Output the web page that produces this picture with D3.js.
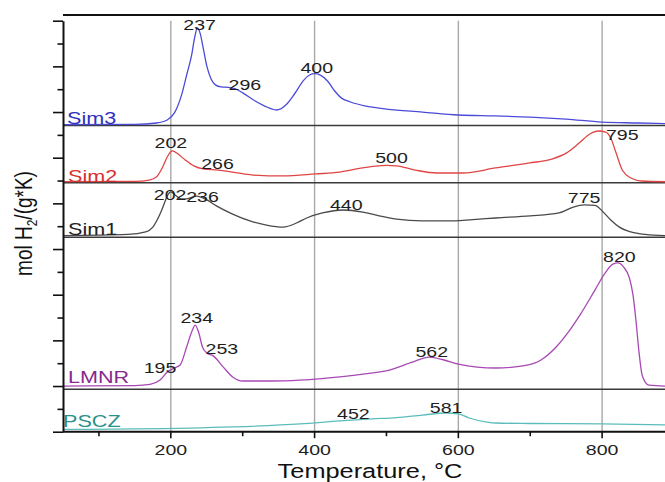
<!DOCTYPE html>
<html><head><meta charset="utf-8">
<script src="https://cdn.jsdelivr.net/npm/d3@7/dist/d3.min.js"></script>
<style>
body{margin:0;background:#fff}
svg{display:block}
text{font-family:"Liberation Sans",Arial,sans-serif}
</style>
</head><body>
<svg id="chart" width="665" height="482"></svg>
<script>
// ---------------- DATA ----------------
const seriesNames = ["Sim3", "Sim2", "Sim1", "LMNR", "PSCZ"];

const sim3Temp = [50,150,180,195,205,215,222,229,233,237,241,245,250,256,262,270,280,290,300,315,330,347,360,372,385,393,400,408,418,428,437,450,470,500,550,600,650,700,750,800,850,900];
const sim3Val  = [13.45,13.46,13.52,13.65,13.96,14.75,15.62,16.50,17.24,17.68,17.42,16.81,16.02,15.45,15.19,15.10,15.08,15.01,14.84,14.53,14.27,14.09,14.31,14.79,15.40,15.62,15.68,15.62,15.36,14.92,14.62,14.44,14.27,14.13,14.00,13.87,13.83,13.78,13.69,13.56,13.52,13.48];

const sim2Temp = [50,150,170,180,188,195,202,210,220,232,245,266,286,314,356,402,435,467,500,514,540,570,606,652,699,730,750,768,783,795,805,812,819,828,840,855,900];
const sim2Val  = [10.95,10.96,11.02,11.15,11.55,12.03,12.30,12.16,11.90,11.64,11.51,11.46,11.37,11.24,11.20,11.29,11.37,11.55,11.66,11.64,11.46,11.33,11.33,11.55,11.77,11.94,12.20,12.64,13.04,13.17,13.12,12.86,12.25,11.46,11.11,10.98,10.94];

const sim1Temp = [50,140,165,175,183,189,195,200,206,214,222,236,250,264,286,310,333,356,375,389,411,440,467,490,514,550,583,620,652,700,740,760,775,790,800,812,824,840,860,900];
const sim1Val  = [8.59,8.64,8.75,8.96,9.40,9.84,10.32,10.50,10.37,10.20,10.20,10.32,10.15,9.88,9.53,9.23,9.05,8.96,9.14,9.36,9.58,9.71,9.62,9.45,9.31,9.23,9.23,9.29,9.36,9.45,9.58,9.84,9.93,9.91,9.67,9.27,8.96,8.75,8.64,8.57];

const lmnrTemp = [50,150,171,185,195,205,213,222,229,234,239,244,250,259,273,286,300,340,380,435,470,504,536,560,580,600,652,690,715,736,755,770,790,805,815,822,830,838,843,847,851,856,865,900];
const lmnrVal  = [2.00,2.02,2.07,2.26,2.61,2.79,2.92,3.71,4.37,4.67,4.32,3.71,3.45,3.32,2.83,2.40,2.22,2.22,2.26,2.40,2.53,2.70,3.05,3.27,3.14,2.96,2.79,2.88,3.14,3.71,4.45,5.15,6.20,6.99,7.34,7.39,7.21,6.73,5.98,4.89,3.58,2.44,2.04,1.98];

const psczTemp = [50,150,286,380,435,480,514,550,583,600,615,640,652,700,800,900];
const psczVal  = [0.10,0.12,0.21,0.34,0.47,0.56,0.62,0.73,0.82,0.78,0.60,0.42,0.38,0.36,0.34,0.29];

// panel bottoms (in y units), one per series, and top border
const panelBottoms = [13.41, 10.905, 8.514, 1.857, 0];
const panelTop = 18.25;

// peak annotations: text, temperature, level (y units)
const peakText = ["237","296","400","202","266","500","795","202","236","440","775","195","234","253","562","820","452","581"];
const peakTemp = [240,303,403,200,265,507,828,199,244,444,775,185,236,271,563,824,454,583];
const peakLevel = [17.59,14.97,15.71,12.42,11.51,11.77,12.78,10.15,10.06,9.71,10.02,2.57,4.76,3.40,3.27,7.43,0.56,0.82];

const xMajorTicks = [200, 400, 600, 800];
const xMinorTicks = [100, 300, 500, 700];
const yTickValues = d3.range(0, 19);
const xTitle = "Temperature, °C";

// ---------------- DRAW ----------------
const W = 665, H = 482;
const SX = 1.35; // horizontal stretch of the original picture's text
const svg = d3.select("#chart");

const x = d3.scaleLinear().domain([50, 900]).range([63, 674]);
const y = d3.scaleLinear().domain([0, 18]).range([431.7, 20.7]);

const temps = [sim3Temp, sim2Temp, sim1Temp, lmnrTemp, psczTemp];
const vals = [sim3Val, sim2Val, sim1Val, lmnrVal, psczVal];
const lineColors = ["#4b4bd8", "#e04545", "#4a4a4a", "#a848b4", "#5cbcbc"];
const textColors = ["#2f2fc0", "#d93030", "#222222", "#862a8c", "#2a918a"];
const labelX = [67, 68, 68, 68, 63];
const labelUp = [2, 1.2, 2.3, 6.3, 4.7];

// vertical gridlines
svg.append("g").selectAll("line").data(xMajorTicks).join("line")
  .attr("x1", d => x(d)).attr("x2", d => x(d))
  .attr("y1", y(18)).attr("y2", y(0))
  .attr("stroke", "#a8a8a8").attr("stroke-width", 1.4);

// panel separators
svg.append("g").selectAll("line").data(panelBottoms.slice(0, 4)).join("line")
  .attr("x1", x(50)).attr("x2", W)
  .attr("y1", d => y(d)).attr("y2", d => y(d))
  .attr("stroke", "#3a3a3a").attr("stroke-width", 1.4);

// top border
svg.append("line")
  .attr("x1", x(50)).attr("x2", W)
  .attr("y1", y(panelTop)).attr("y2", y(panelTop))
  .attr("stroke", "#111").attr("stroke-width", 1.8);

// curves
const line = d3.line().x(d => x(d[0])).y(d => y(d[1])).curve(d3.curveMonotoneX);
seriesNames.forEach((name, i) => {
  const pts = temps[i].map((t, j) => [t, vals[i][j]]);
  svg.append("path").datum(pts)
    .attr("d", line)
    .attr("fill", "none")
    .attr("stroke", lineColors[i])
    .attr("stroke-width", 1.3);
});

// series labels
seriesNames.forEach((name, i) => {
  svg.append("text")
    .attr("transform", `translate(${labelX[i]},${y(panelBottoms[i]) - labelUp[i]}) scale(${SX},1)`)
    .attr("font-size", 16)
    .attr("fill", textColors[i])
    .text(name);
});

// peak annotations
svg.append("g").selectAll("text").data(peakText).join("text")
  .attr("transform", (d, i) => `translate(${x(peakTemp[i])},${y(peakLevel[i])}) scale(${SX},1)`)
  .attr("text-anchor", "middle")
  .attr("font-size", 14.5)
  .attr("fill", "#1e1e1e")
  .text(d => d);

// x axis
const xAxisG = svg.append("g").attr("transform", `translate(0,${y(0)})`);
xAxisG.append("line").attr("x1", x(50)).attr("x2", W).attr("y1", 0).attr("y2", 0)
  .attr("stroke", "#111").attr("stroke-width", 2);
xAxisG.selectAll(".maj").data(xMajorTicks).join("line").attr("class", "maj")
  .attr("x1", d => x(d)).attr("x2", d => x(d)).attr("y1", 0).attr("y2", 6.5)
  .attr("stroke", "#111").attr("stroke-width", 1.6);
xAxisG.selectAll(".min").data(xMinorTicks).join("line").attr("class", "min")
  .attr("x1", d => x(d)).attr("x2", d => x(d)).attr("y1", 0).attr("y2", 4.5)
  .attr("stroke", "#111").attr("stroke-width", 1.6);
xAxisG.selectAll("text").data(xMajorTicks).join("text")
  .attr("transform", d => `translate(${x(d)},23.5) scale(${SX},1)`)
  .attr("text-anchor", "middle")
  .attr("font-size", 14.5)
  .attr("fill", "#1e1e1e")
  .text(d => d);

// y axis (ticks only)
const yAxis = d3.axisLeft(y).tickValues(yTickValues).tickFormat("").tickSizeOuter(0);
const yAxisG = svg.append("g").attr("transform", `translate(${x(50)},0)`).call(yAxis);
yAxisG.select(".domain").attr("stroke", "#111").attr("stroke-width", 2);
yAxisG.selectAll(".tick line")
  .attr("x2", d => (d % 2 === 0 ? -10 : -5.5))
  .attr("stroke", "#111").attr("stroke-width", 1.6);

// axis titles
svg.append("text")
  .attr("transform", `translate(370,478) scale(1.3,1)`)
  .attr("text-anchor", "middle")
  .attr("font-size", 19.5)
  .attr("fill", "#111")
  .text(xTitle);

const yt = svg.append("text")
  .attr("transform", `translate(31.5,223.5) scale(1.28,1) rotate(-90)`)
  .attr("text-anchor", "middle")
  .attr("font-size", 19)
  .attr("fill", "#111");
yt.append("tspan").text("mol H");
yt.append("tspan").attr("font-size", 12).attr("dy", 4).text("2");
yt.append("tspan").attr("dy", -4).text("/(g*K)");
</script>
</body></html>
